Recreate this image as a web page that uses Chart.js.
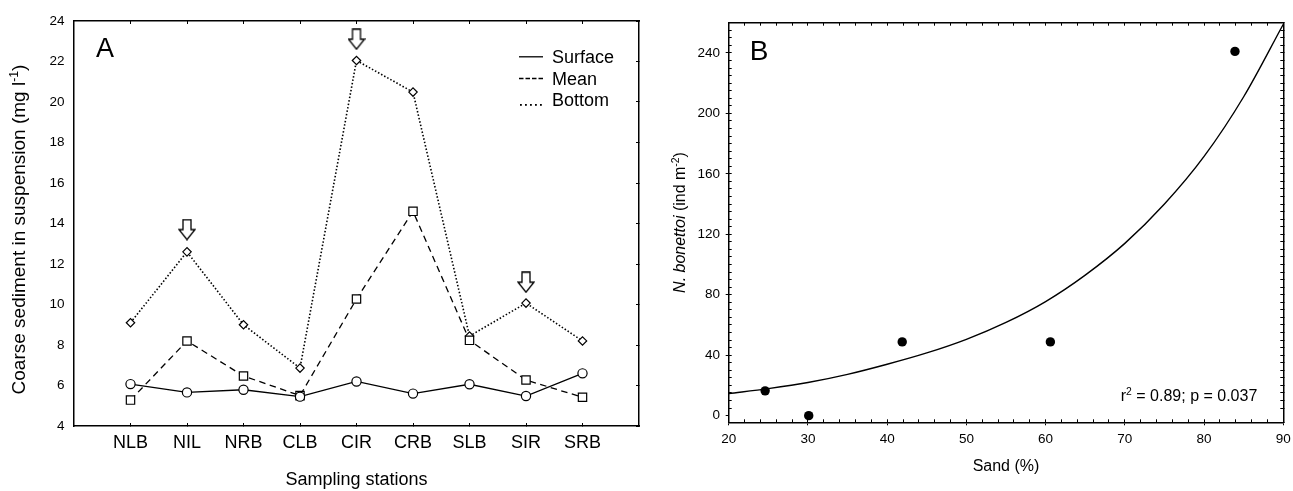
<!DOCTYPE html>
<html><head><meta charset="utf-8">
<script src="https://cdn.jsdelivr.net/npm/chart.js@4.4.1/dist/chart.umd.min.js"></script>
<style>
html,body{margin:0;padding:0;background:#fff;width:1293px;height:491px;overflow:hidden}
#wa{position:absolute;left:0;top:0;width:650px;height:491px}
#wb{position:absolute;left:650px;top:0;width:643px;height:491px}
</style></head><body>
<div id="wa"><canvas id="ca" width="650" height="491"></canvas></div>
<div id="wb"><canvas id="cb" width="643" height="491"></canvas></div>
<script>
// ---------- Panel A data ----------
const stations = ['NLB','NIL','NRB','CLB','CIR','CRB','SLB','SIR','SRB'];
const surface  = [6.07, 5.66, 5.79, 5.45, 6.2, 5.6, 6.06, 5.48, 6.6];
const mean     = [5.28, 8.2, 6.47, 5.5, 10.27, 14.6, 8.23, 6.27, 5.42];
const bottom   = [9.1, 12.6, 9.0, 6.86, 22.05, 20.49, 8.44, 10.07, 8.2];
const arrowStations = ['NIL','CIR','SIR'];
const arrowLevels   = [13.7, 23.1, 11.1];
const yTicksA = [4,6,8,10,12,14,16,18,20,22,24];

// ---------- Panel B data ----------
const sand    = [24.6, 30.1, 41.9, 60.6, 83.9];
const density = [16.4, 0, 48.8, 48.8, 241];
const fitSand    = [20,25,30,35,40,45,50,55,60,65,70,75,80,85,90];
const fitDensity = [14.6,17.9,21.9,27.3,34,41.5,50.5,61.7,75.5,93,114,140,171.5,211,259];
const xTicksB = [20,30,40,50,60,70,80,90];
const yTicksB = [0,40,80,120,160,200,240];

const FAM = "'Liberation Sans', Arial, Helvetica, sans-serif";
Chart.defaults.font.family = FAM;
Chart.defaults.color = '#000';

function fnt(px, italic){ return (italic ? 'italic ' : '') + px + 'px ' + FAM; }
function drawRich(ctx, parts, x, y, size, align){
  let w = 0;
  const ws = parts.map(p => { ctx.font = fnt(p.sup ? size*0.65 : size, p.italic); const m = ctx.measureText(p.t).width; w += m; return m; });
  let cx = align === 'center' ? x - w/2 : (align === 'right' ? x - w : x);
  ctx.textBaseline = 'alphabetic'; ctx.textAlign = 'left'; ctx.fillStyle = '#000';
  parts.forEach((p,i) => {
    ctx.font = fnt(p.sup ? size*0.65 : size, p.italic);
    ctx.fillText(p.t, cx, y - (p.sup ? size*0.38 : 0));
    cx += ws[i];
  });
}
function noPad(s){ s.paddingLeft = 0; s.paddingRight = 0; s.paddingTop = 0; s.paddingBottom = 0; }

function makeArrow(){
  const c = document.createElement('canvas'); c.width = 18; c.height = 22;
  const g = c.getContext('2d');
  g.beginPath(); g.moveTo(5,1); g.lineTo(13,1); g.lineTo(13,11); g.lineTo(17,11);
  g.lineTo(9,21); g.lineTo(1,11); g.lineTo(5,11); g.closePath();
  g.fillStyle = '#fff'; g.fill(); g.lineWidth = 1.3; g.strokeStyle = '#000'; g.stroke();
  return c;
}
const pos = i => i + 1;
const series = vals => vals.map((v,i) => ({x: pos(i), y: v}));
const stationTicks = s => { s.ticks = stations.map((n,i) => ({value: pos(i)})); };

function tickAxis(position, min, max, opts){
  const horiz = position === 'top' || position === 'bottom';
  return Object.assign({
    type: 'linear', position, min, max, weight: 0,
    ticks: {display: false},
    grid: {display: true, drawOnChartArea: false, drawTicks: true, tickLength: -3, color: '#000', lineWidth: 1},
    border: {display: true, color: '#000', width: 1.5},
    afterFit: s => { if (horiz) s.height = 0; else s.width = 0; noPad(s); }
  }, opts);
}

// ---------- Chart A ----------
const pluginA = {
  id: 'decorA',
  afterDraw(chart){
    const {ctx, chartArea: a} = chart;
    ctx.save();
    drawRich(ctx, [{t:'A'}], a.left + 22, a.top + 36, 27, 'left');
    const sx = a.right - 120, tx = a.right - 87;
    const rows = [a.top + 42.3, a.top + 64, a.top + 85];
    chart.data.datasets.filter(d => d.legendSample).forEach((d, k) => {
      const b = rows[k];
      ctx.strokeStyle = '#000'; ctx.fillStyle = '#000'; ctx.lineWidth = 1.3;
      if (d.legendSample === 'dots') {
        for (let j = 0; j < 5; j++) ctx.fillRect(sx + 1 + j*5, b - 2, 1.8, 1.8);
      } else {
        ctx.setLineDash(d.legendSample === 'dash' ? [4.5, 2] : []);
        ctx.beginPath(); ctx.moveTo(sx, b - 6.5); ctx.lineTo(sx + 24, b - 6.5); ctx.stroke();
        ctx.setLineDash([]);
      }
      drawRich(ctx, [{t: d.label}], tx, b, 18, 'left');
    });
    ctx.translate(25, (a.top + a.bottom)/2 + 6);
    ctx.rotate(-Math.PI/2);
    drawRich(ctx, [{t:'Coarse sediment in suspension (mg l'}, {t:'-1', sup:true}, {t:')'}], 0, 0, 19, 'center');
    ctx.restore();
  }
};

new Chart(document.getElementById('ca'), {
  type: 'scatter',
  data: {
    datasets: [
      {label: 'Surface', legendSample: 'line', data: series(surface), showLine: true,
       borderColor: '#000', borderWidth: 1.3, pointStyle: 'circle', pointRadius: 4.6,
       pointBackgroundColor: '#fff', pointBorderColor: '#000', pointBorderWidth: 1.2},
      {label: 'Mean', legendSample: 'dash', data: series(mean), showLine: true,
       borderColor: '#000', borderWidth: 1.3, borderDash: [6.5, 4.5], pointStyle: 'rect', pointRadius: 5.9,
       pointBackgroundColor: '#fff', pointBorderColor: '#000', pointBorderWidth: 1.2},
      {label: 'Bottom', legendSample: 'dots', data: series(bottom), showLine: true,
       borderColor: '#000', borderWidth: 1.6, borderDash: [1.5, 2], pointStyle: 'rectRot', pointRadius: 4.2,
       pointBackgroundColor: '#fff', pointBorderColor: '#000', pointBorderWidth: 1.2},
      {label: 'arrows', data: arrowStations.map((s,k) => ({x: pos(stations.indexOf(s)), y: arrowLevels[k]})),
       showLine: false, pointStyle: makeArrow(), pointRadius: 9}
    ]
  },
  options: {
    responsive: false, animation: false, events: [], devicePixelRatio: 1,
    layout: {padding: {left: 0, right: 11, top: 21, bottom: 0}},
    plugins: {legend: {display: false}, tooltip: {enabled: false}},
    scales: {
      x: {type: 'linear', position: 'bottom', weight: 10, min: 0, max: 10,
          afterBuildTicks: stationTicks,
          ticks: {callback: v => stations[v - 1] || '', font: {size: 18}, padding: 9.5, maxRotation: 0, autoSkip: false},
          grid: {drawOnChartArea: false, drawTicks: true, tickLength: -3, color: '#000'},
          border: {color: '#000', width: 1.5},
          title: {display: true, text: 'Sampling stations', font: {size: 18}, padding: {top: 0, bottom: 0}},
          afterFit: s => { s.height = 65; noPad(s); }},
      xTop: tickAxis('top', 0, 10, {afterBuildTicks: stationTicks}),
      y: {type: 'linear', position: 'left', weight: 10, min: 4, max: 24,
          afterBuildTicks: s => { s.ticks = yTicksA.map(v => ({value: v})); },
          ticks: {font: {size: 13.5}, padding: 9.5},
          grid: {drawOnChartArea: false, drawTicks: false, color: '#000'},
          border: {color: '#000', width: 1.5},
          afterFit: s => { s.width = 74; noPad(s); }},
      yRight: tickAxis('right', 4, 24, {afterBuildTicks: s => { s.ticks = yTicksA.map(v => ({value: v})); }})
    }
  },
  plugins: [pluginA]
});

// ---------- Chart B ----------
const pluginB = {
  id: 'decorB',
  afterDraw(chart){
    const {ctx, chartArea: a} = chart;
    ctx.save();
    drawRich(ctx, [{t:'B'}], a.left + 21, a.top + 37.3, 28, 'left');
    drawRich(ctx, [{t:'r'}, {t:'2', sup:true}, {t:' = 0.89; p = 0.037'}], a.right - 26, a.bottom - 21, 16, 'right');
    ctx.translate(35, (a.top + a.bottom)/2);
    ctx.rotate(-Math.PI/2);
    drawRich(ctx, [{t:'N. bonettoi', italic:true}, {t:' (ind m'}, {t:'-2', sup:true}, {t:')'}], 0, 0, 16, 'center');
    ctx.restore();
  }
};

new Chart(document.getElementById('cb'), {
  type: 'scatter',
  data: {
    datasets: [
      {label: 'observed', data: sand.map((s,i) => ({x: s, y: density[i]})), showLine: false,
       pointStyle: 'circle', pointRadius: 4.7, pointBackgroundColor: '#000', pointBorderColor: '#000', pointBorderWidth: 0},
      {label: 'fit', data: fitSand.map((s,i) => ({x: s, y: fitDensity[i]})), showLine: true,
       borderColor: '#000', borderWidth: 1.4, pointRadius: 0, cubicInterpolationMode: 'monotone'}
    ]
  },
  options: {
    responsive: false, animation: false, events: [], devicePixelRatio: 1,
    layout: {padding: {left: 0, right: 9.7, top: 22.7, bottom: 0}},
    plugins: {legend: {display: false}, tooltip: {enabled: false}},
    scales: {
      x: {type: 'linear', position: 'bottom', weight: 10, min: 20, max: 90,
          afterBuildTicks: s => { s.ticks = xTicksB.map(v => ({value: v})); },
          ticks: {font: {size: 13.5}, padding: 5.6, maxRotation: 0, autoSkip: false},
          grid: {drawOnChartArea: false, drawTicks: true, tickLength: 3, color: '#000'},
          border: {color: '#000', width: 1.5},
          title: {display: true, text: 'Sand (%)', font: {size: 16}, padding: {top: 0, bottom: 15}},
          afterFit: s => { s.height = 68.7; noPad(s); }},
      xMinor: tickAxis('bottom', 20, 90, {ticks: {display: false, stepSize: 2}, border: {display: false}}),
      xTop: tickAxis('top', 20, 90, {ticks: {display: false, stepSize: 2}}),
      y: {type: 'linear', position: 'left', weight: 10, min: -4.4, max: 260,
          afterBuildTicks: s => { s.ticks = yTicksB.map(v => ({value: v})); },
          ticks: {font: {size: 13.5}, padding: 5.7},
          grid: {drawOnChartArea: false, drawTicks: true, tickLength: 3, color: '#000'},
          border: {color: '#000', width: 1.5},
          afterFit: s => { s.width = 78.7; noPad(s); }},
      yMinor: tickAxis('left', -4.4, 260, {ticks: {display: false, stepSize: 5}, border: {display: false}}),
      yRight: tickAxis('right', -4.4, 260, {ticks: {display: false, stepSize: 5}})
    }
  },
  plugins: [pluginB]
});
</script>
</body></html>
